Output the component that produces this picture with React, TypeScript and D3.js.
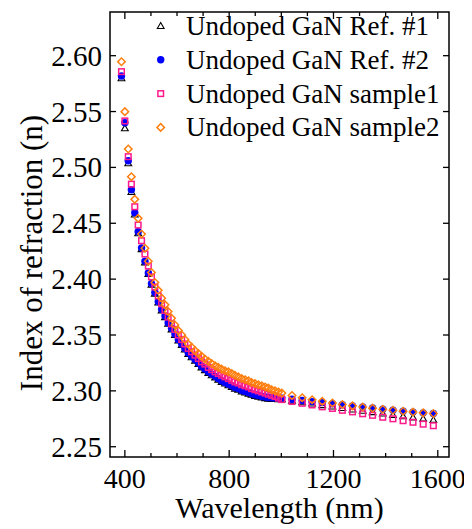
import React, { useEffect, useRef } from "react";
import * as d3 from "d3";

const wavelength = [
  387, 400, 413, 425, 438, 451, 464, 477, 490, 502, 515, 528, 541, 554, 566, 579,
  592, 605, 618, 630, 643, 656, 669, 682, 694, 707, 720, 733, 746, 758, 771, 784,
  797, 810, 822, 835, 848, 861, 874, 886, 899, 912, 925, 938, 950, 963, 976, 989,
  1002, 1041, 1080, 1118, 1157, 1196, 1234, 1273, 1312, 1350, 1389, 1428, 1467,
  1505, 1544, 1583,
];

const ref1 = [
  2.5798, 2.535, 2.5037, 2.478, 2.4578, 2.441, 2.4268, 2.415, 2.4045, 2.395, 2.387,
  2.379, 2.372, 2.366, 2.360, 2.355, 2.350, 2.345, 2.341, 2.337, 2.333, 2.330,
  2.327, 2.324, 2.321, 2.3185, 2.316, 2.314, 2.312, 2.310, 2.308, 2.3065, 2.305,
  2.3035, 2.302, 2.301, 2.2995, 2.2985, 2.2975, 2.2965, 2.2955, 2.2948, 2.294,
  2.2935, 2.293, 2.2928, 2.2927, 2.2926, 2.2925, 2.2912, 2.2898, 2.2886, 2.2872,
  2.2859, 2.2846, 2.2833, 2.2821, 2.2809, 2.2797, 2.2785, 2.2773, 2.2762, 2.2751,
  2.274,
];

const ref2 = [
  2.5818, 2.540, 2.506, 2.480, 2.4594, 2.4424, 2.428, 2.416, 2.4055, 2.396, 2.388,
  2.380, 2.373, 2.367, 2.361, 2.356, 2.351, 2.346, 2.342, 2.338, 2.334, 2.331,
  2.328, 2.325, 2.322, 2.3195, 2.317, 2.315, 2.313, 2.311, 2.309, 2.3075, 2.306,
  2.3045, 2.303, 2.302, 2.3005, 2.2995, 2.2985, 2.2975, 2.2965, 2.2958, 2.295,
  2.2945, 2.294, 2.2938, 2.2937, 2.2936, 2.2935, 2.2925, 2.2914, 2.2904, 2.2895,
  2.2885, 2.2876, 2.2866, 2.2856, 2.2846, 2.2836, 2.2826, 2.2818, 2.281, 2.2803,
  2.2797,
];

const sample1 = [
  2.5857, 2.5416, 2.5096, 2.485, 2.4648, 2.4484, 2.4344, 2.4225, 2.4117, 2.402,
  2.393, 2.385, 2.378, 2.372, 2.366, 2.360, 2.355, 2.350, 2.346, 2.342, 2.338,
  2.335, 2.332, 2.329, 2.326, 2.324, 2.321, 2.319, 2.317, 2.3155, 2.314, 2.3125,
  2.311, 2.3095, 2.308, 2.307, 2.3055, 2.3045, 2.3035, 2.302, 2.301, 2.300, 2.299,
  2.298, 2.297, 2.296, 2.295, 2.2935, 2.2922, 2.2905, 2.2889, 2.2874, 2.2857,
  2.2843, 2.2826, 2.2812, 2.2795, 2.2781, 2.2764, 2.275, 2.2733, 2.2719, 2.2702,
  2.2688,
];

const sample2 = [
  2.5946, 2.5499, 2.5165, 2.4917, 2.4714, 2.4544, 2.4404, 2.4276, 2.416, 2.406,
  2.397, 2.390, 2.383, 2.377, 2.371, 2.365, 2.359, 2.354, 2.350, 2.346, 2.342,
  2.339, 2.336, 2.3335, 2.331, 2.3285, 2.3265, 2.3245, 2.3225, 2.321, 2.3195,
  2.318, 2.317, 2.3155, 2.314, 2.3125, 2.311, 2.310, 2.309, 2.3075, 2.3065, 2.3055,
  2.3045, 2.3035, 2.3025, 2.301, 2.300, 2.299, 2.298, 2.2958, 2.2938, 2.2921,
  2.2906, 2.2891, 2.2878, 2.2866, 2.2855, 2.2845, 2.2835, 2.2826, 2.2818, 2.281,
  2.2803, 2.2797,
];

const seriesNames = [
  "Undoped GaN Ref. #1",
  "Undoped GaN Ref. #2",
  "Undoped GaN sample1",
  "Undoped GaN sample2",
];

const xTicks = [400, 800, 1200, 1600];
const xMinorTicks = [500, 600, 700, 900, 1000, 1100, 1300, 1400, 1500];
const yTicks = [2.25, 2.3, 2.35, 2.4, 2.45, 2.5, 2.55, 2.6];

const W = 472;
const H = 529;
const L = 110;
const R = 449;
const T = 12;
const B = 457;

const SERIF = "Liberation Serif";

type Style = { kind: string; stroke: string; fill: string; sw: number };

const styles: Style[] = [
  { kind: "triangle", stroke: "#000000", fill: "none", sw: 1.1 },
  { kind: "circle", stroke: "none", fill: "#0000ff", sw: 0 },
  { kind: "square", stroke: "#ff1a8c", fill: "none", sw: 1.5 },
  { kind: "diamond", stroke: "#ff7f0e", fill: "none", sw: 1.5 },
];

function drawMarker(g: d3.Selection<SVGGElement, unknown, null, undefined>, px: number, py: number, s: Style) {
  if (s.kind === "triangle") {
    g.append("path")
      .attr("d", d3.symbol().type(d3.symbolTriangle).size(20)() || "")
      .attr("transform", `translate(${px},${py + 0.5})`)
      .attr("fill", "none").attr("stroke", s.stroke).attr("stroke-width", s.sw);
  } else if (s.kind === "circle") {
    g.append("circle").attr("cx", px).attr("cy", py).attr("r", 3.7).attr("fill", s.fill);
  } else if (s.kind === "square") {
    g.append("rect").attr("x", px - 2.8).attr("y", py - 2.8).attr("width", 5.6).attr("height", 5.6)
      .attr("fill", "none").attr("stroke", s.stroke).attr("stroke-width", s.sw);
  } else {
    g.append("path")
      .attr("d", d3.symbol().type(d3.symbolSquare).size(28)() || "")
      .attr("transform", `translate(${px},${py}) rotate(45)`)
      .attr("fill", "none").attr("stroke", s.stroke).attr("stroke-width", s.sw);
  }
}

export default function App() {
  const ref = useRef<SVGSVGElement | null>(null);

  useEffect(() => {
    const svg = d3.select(ref.current);
    svg.selectAll("*").remove();
    const x = d3.scaleLinear().domain([343, 1643]).range([L, R]);
    const y = d3.scaleLinear().domain([2.2408, 2.6391]).range([B, T]);
    const all = [ref1, ref2, sample1, sample2];

    svg.append("rect").attr("width", W).attr("height", H).attr("fill", "#fff");

    all.forEach((vals, si) => {
      const g = svg.append("g") as any;
      vals.forEach((v, i) => drawMarker(g, x(wavelength[i]), y(v), styles[si]));
    });

    svg.append("rect").attr("x", L).attr("y", T).attr("width", R - L).attr("height", B - T)
      .attr("fill", "none").attr("stroke", "#000").attr("stroke-width", 1.5);

    const ax = svg.append("g");
    xTicks.forEach((t) => {
      ax.append("line").attr("x1", x(t)).attr("x2", x(t)).attr("y1", B).attr("y2", B - 7).attr("stroke", "#000").attr("stroke-width", 1.3);
      ax.append("line").attr("x1", x(t)).attr("x2", x(t)).attr("y1", T).attr("y2", T + 7).attr("stroke", "#000").attr("stroke-width", 1.3);
      ax.append("text").attr("x", x(t)).attr("y", 488).attr("text-anchor", "middle")
        .attr("font-family", SERIF).attr("font-size", 28).attr("fill", "#000").text(String(t));
    });
    xMinorTicks.forEach((t) => {
      ax.append("line").attr("x1", x(t)).attr("x2", x(t)).attr("y1", B).attr("y2", B - 4).attr("stroke", "#000").attr("stroke-width", 1.3);
      ax.append("line").attr("x1", x(t)).attr("x2", x(t)).attr("y1", T).attr("y2", T + 4).attr("stroke", "#000").attr("stroke-width", 1.3);
    });
    yTicks.forEach((t) => {
      ax.append("line").attr("x1", L).attr("x2", L + 6).attr("y1", y(t)).attr("y2", y(t)).attr("stroke", "#000").attr("stroke-width", 1.3);
      ax.append("line").attr("x1", R).attr("x2", R - 6).attr("y1", y(t)).attr("y2", y(t)).attr("stroke", "#000").attr("stroke-width", 1.3);
      ax.append("text").attr("x", 102).attr("y", y(t) + 10).attr("text-anchor", "end")
        .attr("font-family", SERIF).attr("font-size", 29).attr("fill", "#000").text(t.toFixed(2));
    });

    svg.append("text").attr("x", (L + R) / 2).attr("y", 518).attr("text-anchor", "middle")
      .attr("font-family", SERIF).attr("font-size", 30).attr("fill", "#000").text("Wavelength (nm)");
    svg.append("text").attr("transform", "translate(42,253) rotate(-90)").attr("text-anchor", "middle")
      .attr("font-family", SERIF).attr("font-size", 31).attr("fill", "#000").text("Index of refraction (n)");

    const lg = svg.append("g") as any;
    seriesNames.forEach((name, i) => {
      const cy = 26 + i * 33.8;
      drawMarker(lg, 160.7, cy, styles[i]);
      lg.append("text").attr("x", 186).attr("y", cy + 9)
        .attr("font-family", SERIF).attr("font-size", 27).attr("fill", "#000").text(name);
    });
  }, []);

  return <svg ref={ref} width={W} height={H} style={{ display: "block", margin: "-8px 0 0 -8px" }} />;
}
